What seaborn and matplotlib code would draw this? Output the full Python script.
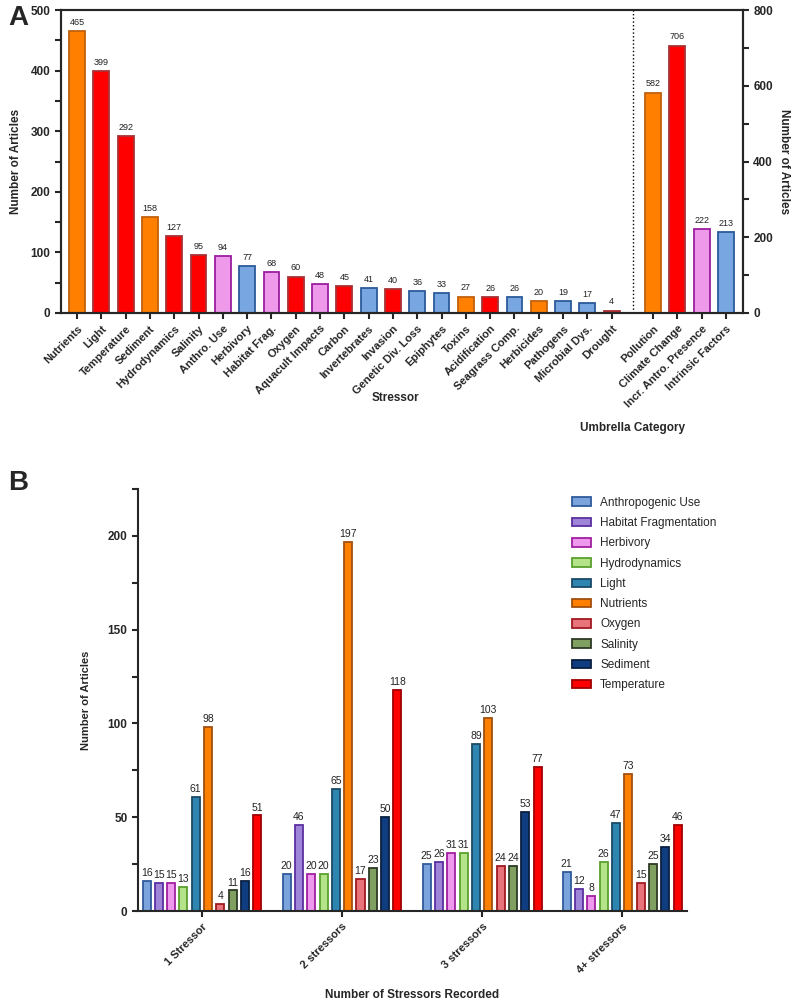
import numpy as np
import pandas as pd
import matplotlib.pyplot as plt
import matplotlib.patches as mpatches
import seaborn as sns

# ---- panel A data ----
stressors = ['Nutrients', 'Light', 'Temperature', 'Sediment', 'Hydrodynamics', 'Salinity',
             'Anthro. Use', 'Herbivory', 'Habitat Frag.', 'Oxygen', 'Aquacult Impacts', 'Carbon',
             'Invertebrates', 'Invasion', 'Genetic Div. Loss', 'Epiphytes', 'Toxins',
             'Acidification', 'Seagrass Comp.', 'Herbicides', 'Pathogens', 'Microbial Dys.',
             'Drought']
stressor_counts = [465, 399, 292, 158, 127, 95, 94, 77, 68, 60, 48, 45, 41, 40, 36, 33, 27,
                   26, 26, 20, 19, 17, 4]
stressor_group = ['Pollution', 'Climate Change', 'Climate Change', 'Pollution', 'Climate Change',
                  'Climate Change', 'Incr. Antro. Presence', 'Intrinsic Factors',
                  'Incr. Antro. Presence', 'Climate Change', 'Incr. Antro. Presence',
                  'Climate Change', 'Intrinsic Factors', 'Climate Change', 'Intrinsic Factors',
                  'Intrinsic Factors', 'Pollution', 'Climate Change', 'Intrinsic Factors',
                  'Pollution', 'Intrinsic Factors', 'Intrinsic Factors', 'Climate Change']
umbrella = ['Pollution', 'Climate Change', 'Incr. Antro. Presence', 'Intrinsic Factors']
umbrella_counts = [582, 706, 222, 213]

group_fill = {'Pollution': '#FF8000', 'Climate Change': '#FF0000',
              'Incr. Antro. Presence': '#EE99EA', 'Intrinsic Factors': '#78A6E0'}
group_edge = {'Pollution': '#C0600E', 'Climate Change': '#A83236',
              'Incr. Antro. Presence': '#9A1E9E', 'Intrinsic Factors': '#2C5A9A'}

# ---- panel B data ----
levels = ['1 Stressor', '2 stressors', '3 stressors', '4+ stressors']
b_stressors = ['Anthropogenic Use', 'Habitat Fragmentation', 'Herbivory', 'Hydrodynamics',
               'Light', 'Nutrients', 'Oxygen', 'Salinity', 'Sediment', 'Temperature']
counts_1 = [16, 15, 15, 13, 61, 98, 4, 11, 16, 51]
counts_2 = [20, 46, 20, 20, 65, 197, 17, 23, 50, 118]
counts_3 = [25, 26, 31, 31, 89, 103, 24, 24, 53, 77]
counts_4 = [21, 12, 8, 26, 47, 73, 15, 25, 34, 46]

b_fill = {'Anthropogenic Use': '#7BA3DC', 'Habitat Fragmentation': '#9F85D8',
          'Herbivory': '#EE99EE', 'Hydrodynamics': '#B5E38A', 'Light': '#2E86B0',
          'Nutrients': '#FF8000', 'Oxygen': '#E8737A', 'Salinity': '#7FA060',
          'Sediment': '#0F3D80', 'Temperature': '#FF0000'}
b_edge = {'Anthropogenic Use': '#2E5A9C', 'Habitat Fragmentation': '#5B2FA0',
          'Herbivory': '#A020A0', 'Hydrodynamics': '#5AA02E', 'Light': '#1A4A66',
          'Nutrients': '#A05010', 'Oxygen': '#A01A20', 'Salinity': '#2E3A26',
          'Sediment': '#0A2040', 'Temperature': '#A00000'}

sns.set_style('ticks')
plt.rcParams['font.family'] = ['Liberation Sans', 'DejaVu Sans']
plt.rcParams['axes.linewidth'] = 1.5
for a in ('xtick', 'ytick'):
    plt.rcParams[a + '.major.width'] = 1.5
    plt.rcParams[a + '.minor.width'] = 1.5
    plt.rcParams[a + '.major.size'] = 4
    plt.rcParams[a + '.minor.size'] = 4

fig = plt.figure(figsize=(7.98, 10.06), dpi=100)

# ================= panel A =================
ax = fig.add_axes([0.0764, 0.6889, 0.931 - 0.0764, 0.990 - 0.6889])
ax2 = ax.twinx()

pos_s = np.arange(len(stressors))
pos_u = len(stressors) + 0.7 + np.arange(len(umbrella))

sns.barplot(x=pos_s, y=stressor_counts, hue=stressor_group, hue_order=umbrella,
            palette=group_fill, native_scale=True, dodge=False, width=0.65, saturation=1,
            linewidth=1.3, legend=False, ax=ax)
for cont, g in zip(ax.containers, umbrella):
    for p in cont:
        p.set_edgecolor(group_edge[g])
    ax.bar_label(cont, fontsize=6.5, padding=3, color='#222222')

sns.barplot(x=pos_u, y=umbrella_counts, hue=umbrella, hue_order=umbrella,
            palette=group_fill, native_scale=True, dodge=False, width=0.65, saturation=1,
            linewidth=1.3, legend=False, ax=ax2)
for cont, g in zip(ax2.containers, umbrella):
    for p in cont:
        p.set_edgecolor(group_edge[g])
    ax2.bar_label(cont, fontsize=6.5, padding=3, color='#222222')

ax.axvline(len(stressors) - 0.12, color='black', linestyle=':', linewidth=1)
ax.set_xlim(-0.66, 27.4)
ax.set_ylim(0, 500)
ax2.set_ylim(0, 800)
ax.set_yticks(np.arange(0, 501, 100))
ax.set_yticks(np.arange(50, 500, 100), minor=True)
ax2.set_yticks(np.arange(0, 801, 200))
ax2.set_yticks(np.arange(100, 800, 200), minor=True)
ax.set_xticks(np.concatenate([pos_s, pos_u]))
ax.set_xticklabels(stressors + umbrella, rotation=45, ha='right', rotation_mode='anchor',
                   fontsize=8, fontweight='bold')
for t in ax.get_yticklabels() + ax2.get_yticklabels():
    t.set_fontweight('bold')
    t.set_fontsize(8.5)
ax.set_xlabel('')
ax2.set_xlabel('')
ax.set_ylabel('Number of Articles', fontsize=8.5, fontweight='bold', labelpad=6)
ax2.set_ylabel('Number of Articles', fontsize=8.5, fontweight='bold', rotation=-90, labelpad=12)
for sp in ax.spines.values():
    sp.set_linewidth(1.5)
for sp in ax2.spines.values():
    sp.set_linewidth(1.5)

fig.text(395 / 798, 1 - 398 / 1006, 'Stressor', fontsize=8.5, fontweight='bold',
         ha='center', va='center')
fig.text(632 / 798, 1 - 428 / 1006, 'Umbrella Category', fontsize=8.5, fontweight='bold',
         ha='center', va='center')

# ================= panel B =================
bx = fig.add_axes([0.1729, 0.0944, 0.861 - 0.1729, 0.5139 - 0.0944])
df = pd.DataFrame({
    'level': np.repeat(levels, len(b_stressors)),
    'stressor': b_stressors * len(levels),
    'count': counts_1 + counts_2 + counts_3 + counts_4,
})
sns.barplot(data=df, x='level', y='count', hue='stressor', hue_order=b_stressors,
            palette=b_fill, width=0.88, gap=0.35, linewidth=1.3, saturation=1,
            legend=False, ax=bx)
for cont, s in zip(bx.containers, b_stressors):
    for p in cont:
        p.set_edgecolor(b_edge[s])
    bx.bar_label(cont, fontsize=7.5, padding=2, color='#222222')

bx.set_xlim(-0.457, 3.464)
bx.set_ylim(0, 225)
bx.set_yticks(np.arange(0, 201, 50))
bx.set_yticks(np.arange(25, 226, 50), minor=True)
bx.set_xticks(range(len(levels)))
bx.set_xticklabels(levels, rotation=45, ha='right', rotation_mode='anchor',
                   fontsize=8, fontweight='bold')
for t in bx.get_yticklabels():
    t.set_fontweight('bold')
    t.set_fontsize(8.5)
bx.set_xlabel('Number of Stressors Recorded', fontsize=8.5, fontweight='bold', labelpad=10)
bx.set_ylabel('Number of Articles', fontsize=8, fontweight='bold', labelpad=12)
sns.despine(ax=bx)

handles = [mpatches.Patch(facecolor=b_fill[s], edgecolor=b_edge[s], linewidth=1.3, label=s)
           for s in b_stressors]
bx.legend(handles=handles, loc='upper left', bbox_to_anchor=(566 / 798, 1 - 491 / 1006),
          bbox_transform=fig.transFigure, frameon=False, fontsize=8.5, handlelength=1.6,
          handleheight=0.75, handletextpad=0.8, labelspacing=0.7, borderpad=0)

fig.text(0.01, 0.995, 'A', fontsize=20, fontweight='bold', va='top')
fig.text(0.01, 1 - 470 / 1006, 'B', fontsize=20, fontweight='bold', va='top')

fig.savefig('out.png', dpi=100)
